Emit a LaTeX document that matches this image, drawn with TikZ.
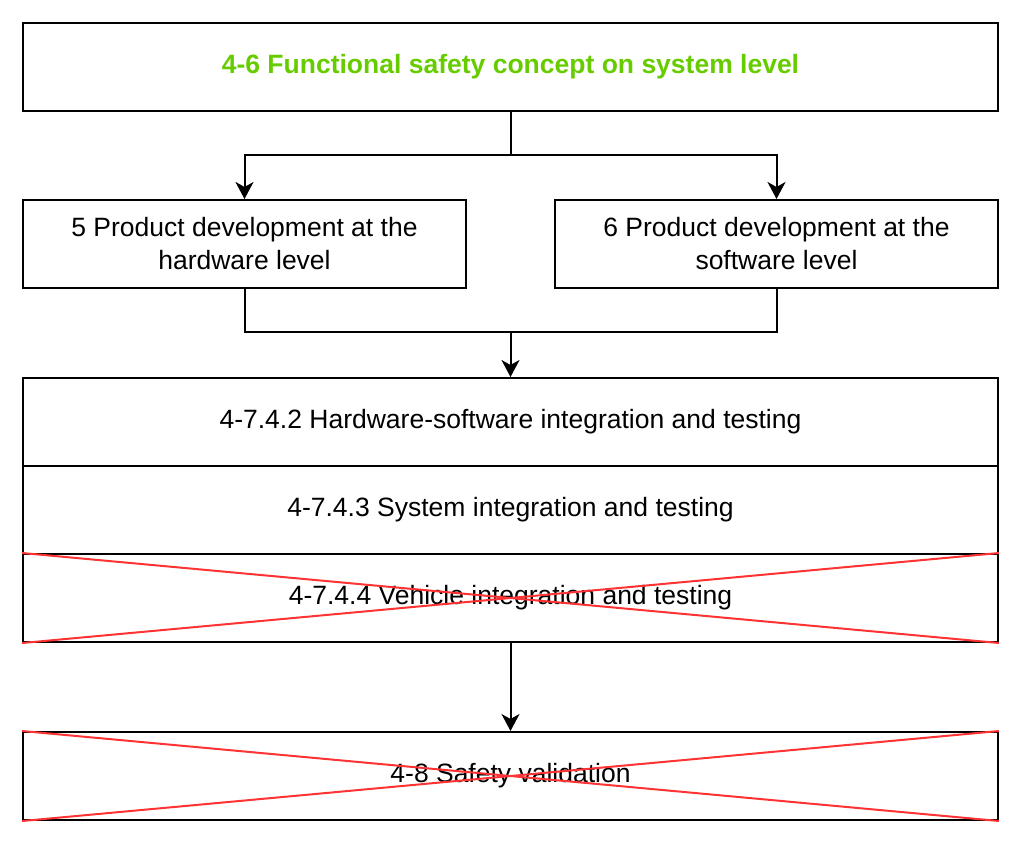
\documentclass[tikz,border=0pt]{standalone}
\usepackage{fontspec}
\setmainfont{Liberation Sans}
\usetikzlibrary{arrows.meta}
\definecolor{fgreen}{RGB}{102,204,0}
\definecolor{xred}{RGB}{255,51,51}
\begin{document}
\begin{tikzpicture}[x=1pt,y=-1pt,
  box/.style={draw=black,line width=2pt,minimum width=975pt,minimum height=88pt,inner sep=0pt,align=center,font=\fontsize{26.5}{33}\selectfont},
  half/.style={draw=black,line width=2pt,minimum width=443pt,minimum height=88pt,inner sep=0pt,align=center,font=\fontsize{26.5}{33}\selectfont},
  conn/.style={draw=black,line width=2pt,-{Stealth[length=17pt,width=18pt,inset=5pt]}},
  cross/.style={draw=xred,line width=2pt}]
\useasboundingbox (0,0) rectangle (1024,846);
\node[box,font=\bfseries\fontsize{26.5}{33}\selectfont,text=fgreen] (top) at (510.5,67) {4-6 Functional safety concept on system level};
\node[half] (hw) at (244.5,244) {5 Product development at the\\hardware level};
\node[half] (sw) at (776.5,244) {6 Product development at the\\software level};
\node[box] (hsi) at (510.5,422) {4-7.4.2 Hardware-software integration and testing};
\node[box] (sys) at (510.5,510) {4-7.4.3 System integration and testing};
\node[box] (veh) at (510.5,598) {4-7.4.4 Vehicle integration and testing};
\node[box] (val) at (510.5,776) {4-8 Safety validation};
\coordinate (j1) at (510.5,155);
\coordinate (j2) at (510.5,332);
\draw[conn] (top.south) -- (j1) -| (hw.north);
\draw[conn] (j1) -| (sw.north);
\draw[line width=2pt] (hw.south) |- (j2);
\draw[line width=2pt] (sw.south) |- (j2);
\draw[conn] (hw.south |- j2) -- (j2) -- (hsi.north);
\draw[conn] (veh.south) -- (val.north);
\draw[cross] (veh.north west) -- (veh.south east);
\draw[cross] (veh.south west) -- (veh.north east);
\draw[cross] (val.north west) -- (val.south east);
\draw[cross] (val.south west) -- (val.north east);
\end{tikzpicture}
\end{document}
